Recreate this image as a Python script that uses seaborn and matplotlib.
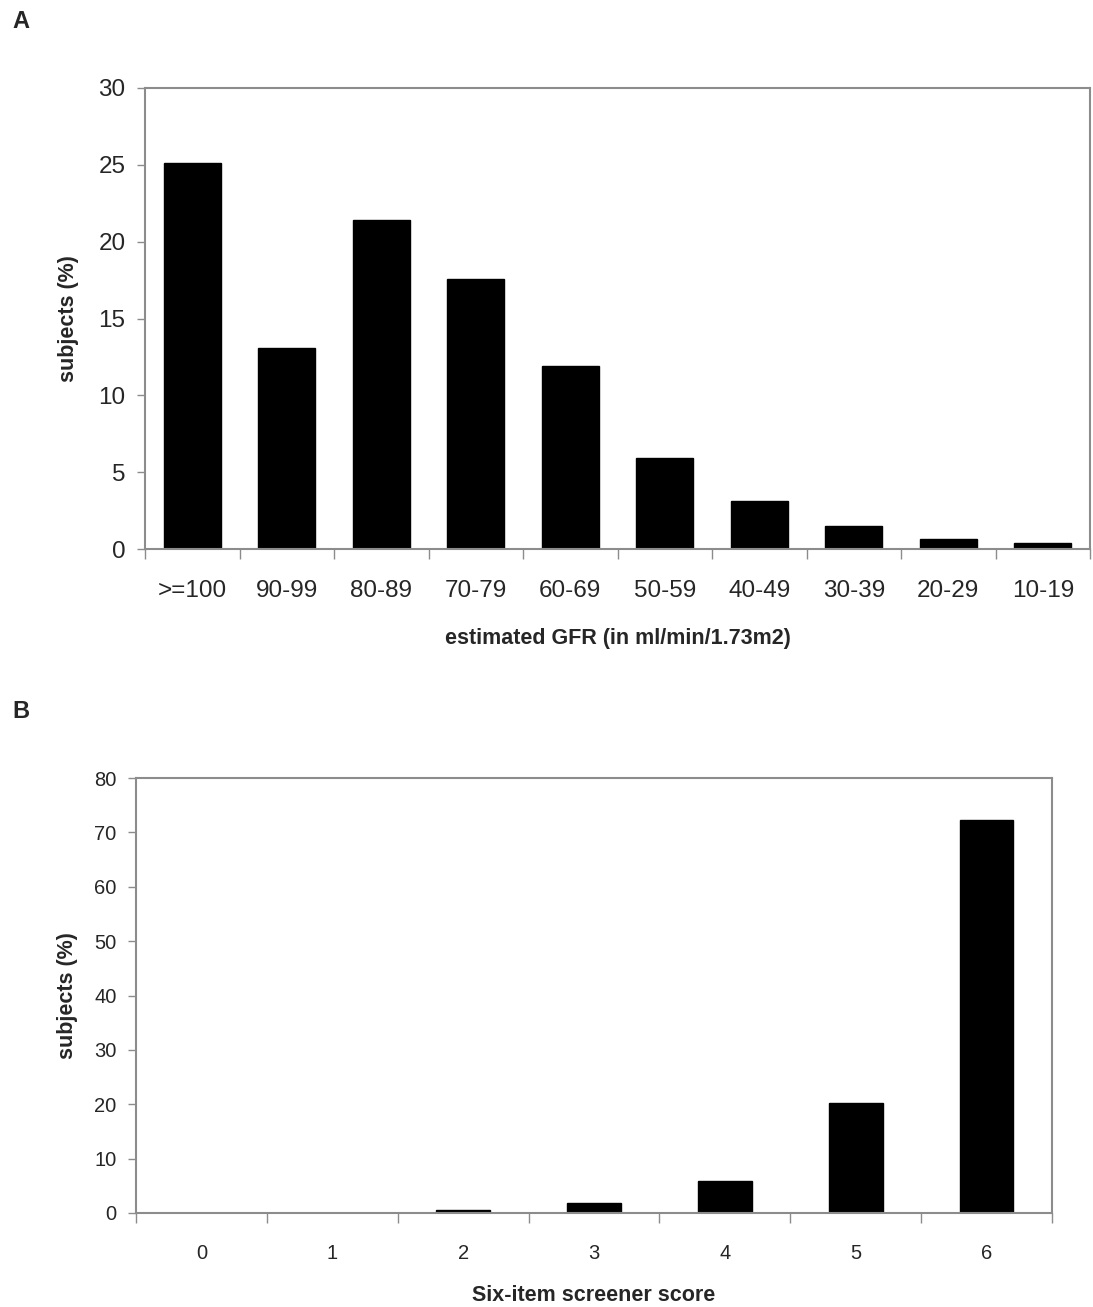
import numpy as np
import pandas as pd
import matplotlib
matplotlib.use("Agg")
import matplotlib.pyplot as plt
import seaborn as sns

# data
gfr_bins = [">=100", "90-99", "80-89", "70-79", "60-69", "50-59", "40-49", "30-39", "20-29", "10-19"]
gfr_pct = [25.1, 13.1, 21.4, 17.6, 11.9, 5.9, 3.1, 1.5, 0.65, 0.4]

sis_scores = ["0", "1", "2", "3", "4", "5", "6"]
sis_pct = [0.0, 0.0, 0.5, 1.9, 5.8, 20.3, 72.2]

sns.set_theme(style="white")
plt.rcParams['font.family'] = ['Liberation Sans', 'DejaVu Sans']

fig = plt.figure(figsize=(10.93, 13.07), dpi=100)
W, H = 1093, 1307

axA = fig.add_axes([145 / W, 1 - 549 / H, (1090 - 145) / W, (549 - 88) / H])
axB = fig.add_axes([136 / W, 1 - 1213 / H, (1052 - 136) / W, (1213 - 778) / H])

dfA = pd.DataFrame({"bin": gfr_bins, "pct": gfr_pct})
dfB = pd.DataFrame({"score": sis_scores, "pct": sis_pct})

sns.barplot(data=dfA, x="bin", y="pct", color="black", width=0.6, ax=axA,
            saturation=1, edgecolor="black")
sns.barplot(data=dfB, x="score", y="pct", color="black", width=0.41, ax=axB,
            saturation=1, edgecolor="black")

gray = "#8c8c8c"


def style_axis(ax, n, ymax, ystep, tick_fs, label_pad):
    ax.set_xlim(-0.5, n - 0.5)
    ax.set_ylim(0, ymax)
    ax.set_yticks(np.arange(0, ymax + 1, ystep))
    for s in ax.spines.values():
        s.set_color(gray)
        s.set_linewidth(1.5)
    ax.tick_params(axis="y", direction="out", length=6, width=1, color=gray,
                   labelsize=tick_fs, pad=8, left=True)
    # category separators as minor ticks, labels on the centres
    ax.set_xticks(np.arange(-0.5, n, 1.0), minor=True)
    ax.tick_params(axis="x", which="minor", direction="out", length=7, width=1,
                   color=gray, bottom=True)
    ax.tick_params(axis="x", which="major", length=0, labelsize=tick_fs,
                   pad=label_pad, bottom=True)
    ax.grid(False)


style_axis(axA, len(gfr_bins), 30, 5, 17.5, 22)
style_axis(axB, len(sis_scores), 80, 10, 14.5, 22)

axA.set_xlabel("estimated GFR (in ml/min/1.73m2)", fontsize=15.5, fontweight="bold", labelpad=19)
axA.set_ylabel("subjects (%)", fontsize=15.5, fontweight="bold", labelpad=14)
axB.set_xlabel("Six-item screener score", fontsize=15.5, fontweight="bold", labelpad=16)
axB.set_ylabel("subjects (%)", fontsize=15.5, fontweight="bold", labelpad=12)

fig.text(12 / W, 1 - 22 / H, "A", fontsize=17, fontweight="bold", va="center", ha="left")
fig.text(12 / W, 1 - 712 / H, "B", fontsize=17, fontweight="bold", va="center", ha="left")

fig.savefig("out.png", dpi=100, facecolor="white")
